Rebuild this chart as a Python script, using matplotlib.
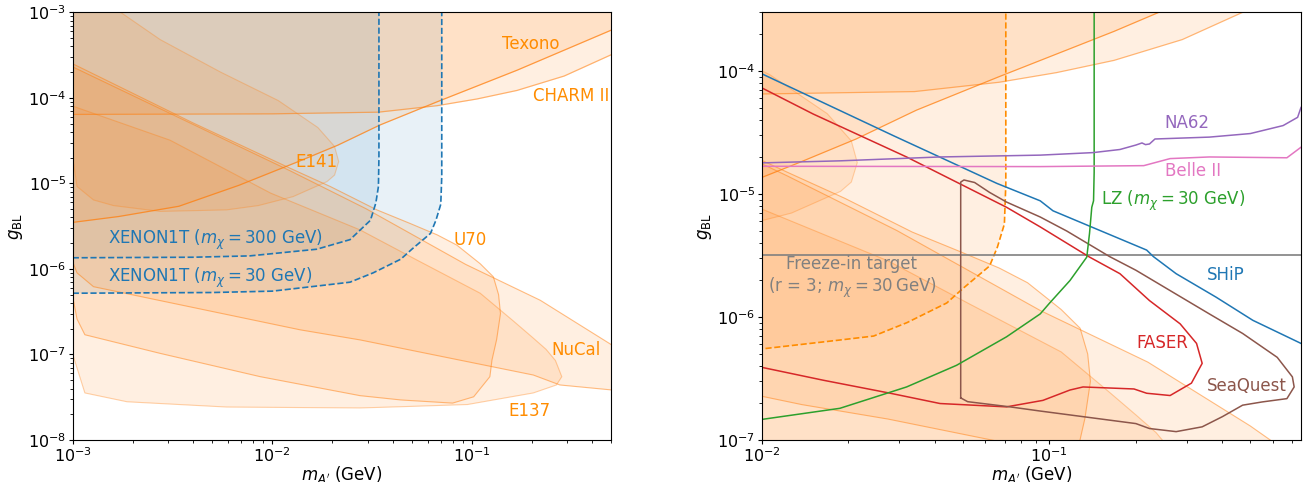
import matplotlib.pyplot as plt
import numpy as np

# existing limits: (m_A' [GeV], g_BL)
texono_m = [1e-3, 1.7e-3, 3.4e-3, 6.8e-3, 0.0135, 0.0213, 0.0345, 0.067, 0.168, 0.5, 0.8]
texono_g = [3.5e-6, 4.1e-6, 5.4e-6, 9.5e-6, 1.8e-5, 2.8e-5, 4.8e-5, 9.0e-5, 2.1e-4, 6.2e-4, 9.5e-4]

charm_m = [1e-3, 0.01, 0.034, 0.067, 0.106, 0.168, 0.29, 0.5, 0.8]
charm_g = [6.4e-5, 6.5e-5, 6.8e-5, 8.1e-5, 9.7e-5, 1.22e-4, 1.8e-4, 3.2e-4, 5.5e-4]

e141_m = [1e-3, 1.55e-3, 2.74e-3, 5.5e-3, 0.0107, 0.0169, 0.0205, 0.0215, 0.0205, 0.0188, 0.0127,
          8.5e-3, 5.9e-3, 2.74e-3, 1.6e-3, 1.27e-3, 1.05e-3, 1e-3]
e141_g = [2e-3, 1.2e-3, 4.8e-4, 2.0e-4, 9.3e-5, 4.5e-5, 2.7e-5, 1.8e-5, 1.25e-5, 1.05e-5, 7.0e-6,
          5.5e-6, 4.9e-6, 4.7e-6, 5.5e-6, 6.4e-6, 9.2e-6, 2e-5]

u70_m = [1e-3, 4e-3, 0.0123, 0.0195, 0.0334, 0.049, 0.067, 0.084, 0.11, 0.128, 0.136, 0.139, 0.133,
         0.126, 0.123, 0.102, 0.080, 0.044, 0.0275, 8.7e-3, 2.74e-3, 1.15e-3, 1.05e-3, 1e-3]
u70_g = [2.5e-4, 5.1e-5, 1.5e-5, 9.2e-6, 4.9e-6, 3.4e-6, 2.5e-6, 1.9e-6, 1.15e-6, 8.1e-7, 5e-7, 3.0e-7,
         1.5e-7, 8.6e-8, 5.5e-8, 3.2e-8, 2.7e-8, 2.94e-8, 3.3e-8, 5.5e-8, 1.03e-7, 1.7e-7, 2.6e-7, 4.7e-7]

nucal_m = [1e-3, 0.0123, 0.0295, 0.093, 0.22, 0.5, 0.8, 0.8, 0.5, 0.276, 0.203, 0.0275, 0.0138,
           1.27e-3, 1.05e-3, 1e-3]
nucal_g = [2.3e-4, 1.4e-5, 5.05e-6, 1.13e-6, 4.3e-7, 1.3e-7, 6e-8, 3.5e-8, 3.85e-8, 4.4e-8, 5.75e-8,
           1.48e-7, 1.94e-7, 6.2e-7, 9e-7, 1.2e-6]

e137_m = [1e-3, 3.07e-3, 9.8e-3, 0.0275, 0.053, 0.11, 0.16, 0.2, 0.235, 0.262, 0.282, 0.265, 0.203,
          0.095, 0.044, 0.0275, 5.9e-3, 1.87e-3, 1.15e-3, 1e-3]
e137_g = [8e-5, 3.2e-5, 7.7e-6, 2.86e-6, 1.27e-6, 5.2e-7, 2.5e-7, 1.6e-7, 1.15e-7, 8.5e-8, 5.5e-8,
          4.4e-8, 3.55e-8, 2.6e-8, 2.45e-8, 2.37e-8, 2.43e-8, 2.8e-8, 3.55e-8, 1e-7]

xe300_m = [1e-3, 4e-3, 7.7e-3, 0.0167, 0.0245, 0.031, 0.033, 0.034, 0.0342, 0.0342]
xe300_g = [1.35e-6, 1.37e-6, 1.42e-6, 1.7e-6, 2.2e-6, 3.7e-6, 5.9e-6, 9.2e-6, 2e-5, 2e-3]

xe30_m = [1e-3, 5e-3, 0.01, 0.0187, 0.0245, 0.032, 0.044, 0.05, 0.062, 0.066, 0.0698, 0.0706, 0.0706]
xe30_g = [5.2e-7, 5.3e-7, 5.5e-7, 6.5e-7, 7.0e-7, 9.0e-7, 1.3e-6, 1.7e-6, 2.6e-6, 3.7e-6, 5.7e-6, 1.2e-5, 2e-3]

# future reach / targets (right panel)
ship_m = [0.01, 0.0287, 0.0657, 0.093, 0.103, 0.218, 0.23, 0.276, 0.38, 0.51, 0.75]
ship_g = [9.5e-5, 2.98e-5, 1.22e-5, 8.8e-6, 7.3e-6, 3.5e-6, 3.1e-6, 2.25e-6, 1.45e-6, 9.4e-7, 6.1e-7]

faser_m = [0.01, 0.0151, 0.0319, 0.071, 0.093, 0.138, 0.176, 0.223, 0.285, 0.325, 0.34, 0.312, 0.263,
           0.218, 0.197, 0.131, 0.118, 0.095, 0.071, 0.0417, 0.028, 0.0164, 0.01]
faser_g = [7.3e-5, 4.47e-5, 2.0e-5, 7.8e-6, 5.4e-6, 3.07e-6, 2.25e-6, 1.36e-6, 8.8e-7, 6.1e-7, 4.2e-7,
           2.9e-7, 2.3e-7, 2.4e-7, 2.6e-7, 2.7e-7, 2.55e-7, 2.1e-7, 1.86e-7, 1.98e-7, 2.4e-7, 3.06e-7, 3.9e-7]

seaquest_m = [0.0492, 0.0492, 0.0505, 0.055, 0.062, 0.071, 0.093, 0.115, 0.162, 0.2, 0.263, 0.36, 0.47,
              0.62, 0.70, 0.71, 0.67, 0.55, 0.47, 0.40, 0.34, 0.276, 0.223, 0.2, 0.093, 0.073, 0.052, 0.0492]
seaquest_g = [2.2e-7, 1.25e-5, 1.3e-5, 1.24e-5, 1.03e-5, 8.6e-6, 6.5e-6, 5.0e-6, 3.1e-6, 2.4e-6, 1.64e-6,
              1.06e-6, 7.35e-7, 4.7e-7, 3.26e-7, 2.7e-7, 2.17e-7, 2.04e-7, 1.92e-7, 1.55e-7, 1.28e-7,
              1.17e-7, 1.24e-7, 1.36e-7, 1.72e-7, 1.86e-7, 2.05e-7, 2.2e-7]

lz_m = [0.01, 0.0187, 0.0319, 0.0476, 0.071, 0.093, 0.1, 0.118, 0.135, 0.138, 0.1405, 0.1425, 0.1432, 0.1432]
lz_g = [1.47e-7, 1.81e-7, 2.7e-7, 4.05e-7, 6.9e-7, 1.06e-6, 1.29e-6, 1.98e-6, 3.07e-6, 4.8e-6, 7.8e-6,
        8.8e-6, 1.5e-5, 1e-3]

na62_m = [0.01, 0.0187, 0.0417, 0.093, 0.142, 0.176, 0.2, 0.21, 0.216, 0.223, 0.233, 0.36, 0.5, 0.65, 0.73, 0.75]
na62_g = [1.79e-5, 1.86e-5, 2.0e-5, 2.07e-5, 2.17e-5, 2.3e-5, 2.5e-5, 2.6e-5, 2.52e-5, 2.55e-5, 2.8e-5,
          2.9e-5, 3.1e-5, 3.6e-5, 4.2e-5, 5.05e-5]

belle_m = [0.01, 0.093, 0.213, 0.263, 0.36, 0.67, 0.75]
belle_g = [1.68e-5, 1.67e-5, 1.7e-5, 1.94e-5, 2.0e-5, 1.97e-5, 2.4e-5]

freezein_g = 3.2e-6

ORANGE = 'C1'
LABEL_ORANGE = 'darkorange'
FILL_A = 0.12


def fill_above(ax, m, g, color, alpha):
    ax.fill(np.r_[1e-4, m, m[-1], 1e-4], np.r_[g[0], g, 1.0, 1.0], color=color, alpha=alpha, lw=0)


def draw_limits(ax):
    ax.fill_between(texono_m, texono_g, 1.0, color=ORANGE, alpha=FILL_A, lw=0)
    ax.plot(texono_m, texono_g, color=ORANGE, lw=0.9, alpha=0.75)
    ax.fill_between(charm_m, charm_g, 1.0, color=ORANGE, alpha=FILL_A, lw=0)
    ax.plot(charm_m, charm_g, color=ORANGE, lw=0.9, alpha=0.55)
    for m, g, a in [(e141_m, e141_g, 0.3), (u70_m, u70_g, 0.5),
                    (nucal_m, nucal_g, 0.5), (e137_m, e137_g, 0.35)]:
        ax.fill(m, g, color=ORANGE, alpha=FILL_A, lw=0)
        ax.plot(list(m) + [m[0]], list(g) + [g[0]], color=ORANGE, lw=0.8, alpha=a)


fig = plt.figure(figsize=(13.04, 4.82), dpi=100)
ax1 = fig.add_axes([0.0558, 0.0871, 0.4131, 0.8874])
ax2 = fig.add_axes([0.5841, 0.0871, 0.4136, 0.8874])

# left panel: XENON1T
fill_above(ax1, xe300_m, xe300_g, 'C0', 0.1)
fill_above(ax1, xe30_m, xe30_g, 'C0', 0.1)
draw_limits(ax1)
ax1.plot(xe300_m, xe300_g, color='C0', lw=1.2, ls='--')
ax1.plot(xe30_m, xe30_g, color='C0', lw=1.2, ls='--')

ax1.text(0.141, 4.25e-4, 'Texono', color=LABEL_ORANGE, fontsize=12, va='center')
ax1.text(0.202, 1.06e-4, 'CHARM II', color=LABEL_ORANGE, fontsize=12, va='center')
ax1.text(0.013, 1.8e-5, 'E141', color=LABEL_ORANGE, fontsize=12, va='center')
ax1.text(0.081, 2.18e-6, 'U70', color=LABEL_ORANGE, fontsize=12, va='center')
ax1.text(0.251, 1.13e-7, 'NuCal', color=LABEL_ORANGE, fontsize=12, va='center')
ax1.text(0.152, 2.18e-8, 'E137', color=LABEL_ORANGE, fontsize=12, va='center')
ax1.text(1.51e-3, 2.18e-6, r'XENON1T ($m_\chi = 300$ GeV)', color='C0', fontsize=12, va='center')
ax1.text(1.51e-3, 7.8e-7, r'XENON1T ($m_\chi = 30$ GeV)', color='C0', fontsize=12, va='center')

ax1.set_xscale('log')
ax1.set_yscale('log')
ax1.set_xlim(1e-3, 0.5)
ax1.set_ylim(1e-8, 1e-3)

# right panel: future searches
draw_limits(ax2)
fill_above(ax2, xe30_m, xe30_g, ORANGE, FILL_A)
ax2.plot(xe30_m, xe30_g, color=LABEL_ORANGE, lw=1.2, ls='--')

ax2.axhline(freezein_g, color='grey', lw=1.2)
ax2.plot(ship_m, ship_g, color='C0', lw=1.1)
ax2.plot(faser_m, faser_g, color='C3', lw=1.1)
ax2.plot(seaquest_m, seaquest_g, color='C5', lw=1.1)
ax2.plot(lz_m, lz_g, color='C2', lw=1.1)
ax2.plot(na62_m, na62_g, color='C4', lw=1.1)
ax2.plot(belle_m, belle_g, color='C6', lw=1.1)

ax2.text(0.252, 3.8e-5, 'NA62', color='C4', fontsize=12, va='center')
ax2.text(0.252, 1.54e-5, 'Belle II', color='C6', fontsize=12, va='center')
ax2.text(0.151, 8.8e-6, r'LZ ($m_\chi = 30$ GeV)', color='C2', fontsize=12, va='center')
ax2.text(0.354, 2.2e-6, 'SHiP', color='C0', fontsize=12, va='center')
ax2.text(0.20, 6.1e-7, 'FASER', color='C3', fontsize=12, va='center')
ax2.text(0.354, 2.75e-7, 'SeaQuest', color='C5', fontsize=12, va='center')
ax2.text(0.0206, 2.1e-6, 'Freeze-in target\n' + r'(r = 3; $m_\chi = 30\,$GeV)', color='grey',
         fontsize=12, ha='center', va='center', multialignment='center')

ax2.set_xscale('log')
ax2.set_yscale('log')
ax2.set_xlim(1e-2, 0.75)
ax2.set_ylim(1e-7, 3e-4)

for ax in (ax1, ax2):
    ax.set_xlabel(r"$m_{A'}$ (GeV)", fontsize=12, labelpad=-1)
    ax.set_ylabel(r'$g_{\rm BL}$', fontsize=12, labelpad=2)
    ax.tick_params(labelsize=11.5, pad=1.5)
    ax.tick_params(which='major', length=3)
    ax.tick_params(which='minor', length=2)

fig.savefig('out.png', dpi=100)
